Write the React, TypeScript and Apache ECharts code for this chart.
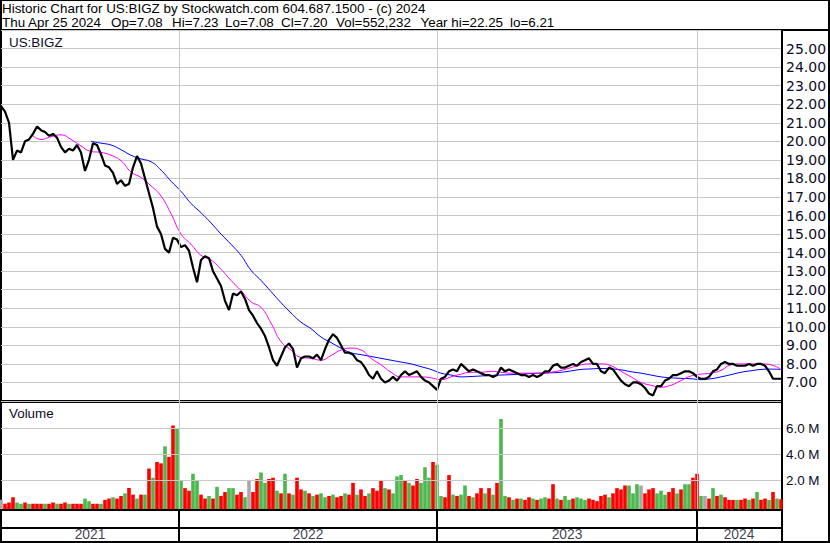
import React, { useEffect, useRef } from "react";
import * as echarts from "echarts";

// ---- data ----
const STEP = 4; // trading days between stored closes / volumes
const closes = [
  21.9, 21.6, 21.0, 19.0, 19.5, 19.4, 20.0, 20.1, 20.4, 20.8,
  20.6, 20.5, 20.3, 20.4, 20.2, 19.7, 19.4, 19.6, 19.5, 19.8,
  19.4, 18.4, 19.0, 19.9, 19.8, 19.3, 18.7, 18.6, 18.3, 17.7,
  17.9, 17.6, 17.7, 18.6, 19.2, 18.8, 18.0, 17.2, 16.4, 15.4,
  15.0, 14.2, 14.0, 14.8, 14.7, 14.3, 14.4, 14.1, 13.2, 12.4,
  13.6, 13.8, 13.7, 13.0, 12.6, 12.2, 11.4, 10.9, 11.8, 11.7,
  11.9, 11.5, 10.9, 10.6, 10.2, 9.9, 9.5, 8.9, 8.2, 7.9,
  8.4, 8.9, 9.1, 8.8, 7.8, 8.3, 8.4, 8.4, 8.3, 8.5,
  8.2, 8.8, 9.3, 9.6, 9.4, 9.0, 8.6, 8.6, 8.5, 8.2,
  8.1, 7.8, 7.4, 7.2, 7.6, 7.2, 7.0, 7.1, 7.3, 7.1,
  7.4, 7.6, 7.4, 7.5, 7.6, 7.3, 7.1, 7.0, 6.8, 6.6,
  7.2, 7.3, 7.6, 7.7, 7.6, 8.0, 7.8, 7.6, 7.7, 7.6,
  7.5, 7.4, 7.4, 7.3, 7.4, 7.8, 7.6, 7.7, 7.6, 7.5,
  7.4, 7.4, 7.3, 7.4, 7.3, 7.4, 7.6, 7.6, 7.9, 8.0,
  7.8, 7.8, 7.9, 8.0, 7.9, 8.1, 8.2, 8.3, 8.0, 8.0,
  7.6, 7.5, 7.8, 7.7, 7.4, 7.1, 6.9, 6.8, 7.0, 7.0,
  6.9, 6.7, 6.4, 6.3, 6.8, 6.8, 7.1, 7.2, 7.4, 7.4,
  7.5, 7.6, 7.6, 7.5, 7.3, 7.2, 7.2, 7.3, 7.6, 7.7,
  8.0, 8.1, 8.0, 8.0, 7.9, 7.9, 7.9, 8.0, 7.9, 8.0,
  8.0, 7.9, 7.6, 7.2, 7.2, 7.2,
];
const volumes = [
  0.5, 0.2, 0.3, 0.7, 0.3, 0.2, 0.3, 0.2, 0.2, 0.2,
  0.2, 0.2, 0.2, 0.3, 0.2, 0.2, 0.3, 0.2, 0.2, 0.2,
  0.2, 0.6, 0.4, 0.2, 0.2, 0.2, 0.5, 0.6, 0.7, 0.6,
  0.8, 1.0, 1.4, 0.9, 0.6, 0.9, 0.9, 2.9, 2.2, 3.4,
  3.3, 4.6, 3.8, 6.2, 6.0, 2.0, 1.4, 1.2, 2.5, 2.0,
  0.9, 0.6, 0.8, 0.6, 1.5, 0.8, 1.1, 1.4, 1.4, 0.9,
  1.1, 0.7, 2.0, 1.1, 2.1, 2.6, 1.8, 2.1, 2.2, 1.2,
  1.0, 2.5, 1.0, 0.9, 2.2, 1.3, 1.2, 1.0, 0.8, 0.9,
  1.0, 0.7, 0.8, 0.9, 0.7, 0.8, 1.0, 0.9, 1.8, 0.9,
  1.3, 0.8, 1.0, 1.4, 1.2, 2.0, 1.4, 1.3, 1.0, 2.3,
  2.4, 2.0, 1.8, 1.6, 2.1, 1.8, 3.0, 2.2, 3.4, 3.2,
  0.8, 0.7, 2.4, 0.9, 0.8, 0.9, 1.6, 0.8, 0.7, 1.0,
  1.4, 1.0, 1.4, 0.9, 1.8, 6.7, 0.8, 0.7, 0.5, 0.6,
  0.6, 0.5, 0.7, 0.6, 0.5, 0.6, 0.7, 0.6, 1.7, 0.6,
  0.5, 0.8, 0.5, 0.6, 0.7, 0.6, 0.5, 0.6, 0.5, 0.4,
  0.8, 0.9, 0.7, 1.0, 1.4, 1.3, 1.6, 1.6, 1.0, 1.7,
  1.6, 1.0, 1.3, 1.4, 1.0, 1.2, 0.9, 1.1, 1.4, 1.0,
  1.3, 1.7, 1.7, 2.2, 2.5, 0.8, 0.8, 0.6, 1.4, 0.8,
  0.9, 0.7, 0.5, 0.5, 0.5, 0.5, 0.6, 0.5, 0.6, 1.1,
  0.5, 0.6, 0.5, 1.1, 0.6, 0.55,
];
// g = up day, r = down day, n = unchanged
const volumeDirections = (
  "nrrrggrgrr" + "rgrrgrrgrr" + "rggrrgrrgr" + "rgrrgrgrgr" + "rgrrggrrgg" +
  "rrgrgrrggr" + "rgnrrggrrg" + "rgrgrrgrgr" + "ggrgrrgrrg" + "rrgrrrgrgg" +
  "grgrrgggrg" + "grrgrggrgr" + "rgrgrggrgr" + "grrgrggrrg" + "rggrgggrrr" +
  "rrgrrrrggg" + "nrrrgggrrg" + "rggrrgnrgr" + "grrrgrrgrg" + "rrgrgr"
).split("");

const MA_STEP = 10;
const maFastStart = 30;
const maFast = [
  20.4, 20.1, 20.25, 20.35, 20.1, 19.75, 19.45, 19.4, 19.25, 18.95,
  18.35, 18.05, 17.6, 17.05, 16.1, 15.0, 14.45, 13.85, 13.6, 13.1,
  12.5, 11.95, 11.35, 11.05, 10.2, 9.2, 8.75, 8.35, 8.3, 8.2,
  8.45, 8.75, 8.85, 8.75, 8.3, 7.95, 7.55, 7.3, 7.3, 7.3,
  7.25, 7.15, 7.3, 7.45, 7.55, 7.55, 7.6, 7.55, 7.5, 7.5,
  7.5, 7.5, 7.55, 7.65, 7.8, 7.95, 8.0, 8.0, 7.9, 7.6,
  7.3, 7.0, 6.85, 6.75, 6.85, 7.1, 7.35, 7.45, 7.5, 7.65,
  7.95, 8.0, 8.0, 8.0, 7.95, 7.7,
];
const maSlowStart = 90;
const maSlow = [
  20.0, 19.9, 19.8, 19.55, 19.25, 19.05, 18.9, 18.45, 17.85, 17.3,
  16.65, 16.15, 15.6, 15.0, 14.45, 13.85, 13.05, 12.5, 11.9, 11.3,
  10.75, 10.25, 9.9, 9.45, 9.15, 8.85, 8.6, 8.5, 8.4, 8.3,
  8.2, 8.1, 8.0, 7.85, 7.7, 7.5, 7.4, 7.3, 7.32, 7.35,
  7.38, 7.4, 7.42, 7.45, 7.48, 7.5, 7.52, 7.55, 7.62, 7.7,
  7.73, 7.75, 7.73, 7.68, 7.58, 7.5, 7.4, 7.3, 7.25, 7.22,
  7.2, 7.15, 7.2, 7.3, 7.42, 7.55, 7.63, 7.7, 7.72, 7.7,
];

const yearLabels = ["2021", "2022", "2023", "2024"];
const yearStarts = [178, 436, 696]; // trading-day index where each new year begins
const lastDay = 780;
const volumeTicks = [2, 4, 6]; // millions

const title = "Historic Chart for US:BIGZ by Stockwatch.com 604.687.1500 - (c) 2024";
const quoteItems = [
  "Thu Apr 25 2024", "Op=7.08", "Hi=7.23", "Lo=7.08", "Cl=7.20",
  "Vol=552,232", "Year hi=22.25", "lo=6.21",
];
const symbol = "US:BIGZ";

export default function App() {
  const ref = useRef<HTMLDivElement>(null);
  useEffect(() => {
    const el = ref.current!;
    const chart = echarts.init(el, null, { renderer: "svg" });
    const FONT = "'Liberation Sans', Arial, sans-serif";
    const TXT = "#0c0c28";
    const GRID = "#c8c8c8";
    const VOL_BASE = 0.2;
    const colorOf: Record<string, string> = { g: "#4cb84c", r: "#ff0000", n: "#a8a8a8" };

    const priceData = closes.map((v, i) => [i * STEP, v]);
    const fastData = maFast.map((v, i) => [maFastStart + i * MA_STEP, v]);
    const slowData = maSlow.map((v, i) => [maSlowStart + i * MA_STEP, v]);
    const volData = volumes.map((v, i) => ({
      value: [i * STEP, v + VOL_BASE],
      itemStyle: { color: colorOf[volumeDirections[i]] || "#ff0000" },
    }));
    const bounds = [0, ...yearStarts, lastDay];
    const yearMid = yearLabels.map((_, i) => [(bounds[i] + bounds[i + 1]) / 2, 0.5]);
    const vLines = (color: string, width: number) => ({
      silent: true,
      symbol: "none",
      label: { show: false },
      lineStyle: { color, width, type: "solid" },
      data: yearStarts.map((d) => ({ xAxis: d })),
    });

    const headerX = [2, 111, 172, 225, 281, 336, 420.5, 510];

    chart.setOption({
      animation: false,
      textStyle: { fontFamily: FONT },
      grid: [
        { left: 1, width: 780, top: 30, height: 371 },
        { left: 1, width: 780, top: 402, height: 107 },
        { left: 1, width: 780, top: 509, height: 33 },
        { left: 1, width: 780, top: 527, height: 15 },
      ],
      xAxis: [0, 1, 2, 3].map((i) => ({
        type: "value",
        gridIndex: i,
        min: 0,
        max: lastDay,
        show: false,
      })),
      yAxis: [
        {
          type: "value",
          gridIndex: 0,
          position: "right",
          min: 6,
          max: 26,
          interval: 1,
          axisLine: { show: false },
          axisTick: { show: false },
          splitLine: { show: true, lineStyle: { color: GRID, width: 1 } },
          axisLabel: {
            margin: 5,
            color: TXT,
            fontFamily: "'DejaVu Sans', sans-serif",
            fontSize: 14,
            formatter: (v: number) => (v <= 6 || v >= 26 ? "" : v.toFixed(2)),
          },
        },
        {
          type: "value",
          gridIndex: 1,
          position: "right",
          min: 0,
          max: 8.2,
          axisLine: { show: false },
          axisTick: { show: false },
          splitLine: { show: false },
          axisLabel: {
            margin: 5,
            color: TXT,
            fontFamily: FONT,
            fontSize: 13.4,
            customValues: volumeTicks.map((t) => t + VOL_BASE),
            formatter: (v: number) => (v - VOL_BASE).toFixed(1) + " M",
          },
        },
        { type: "value", gridIndex: 2, min: 0, max: 1, show: false },
        { type: "value", gridIndex: 3, min: 0, max: 1, show: false },
      ],
      series: [
        {
          name: "grid-price",
          type: "line",
          xAxisIndex: 0,
          yAxisIndex: 0,
          data: [],
          z: 0,
          markLine: vLines(GRID, 1),
        },
        {
          name: "maSlow",
          type: "line",
          xAxisIndex: 0,
          yAxisIndex: 0,
          data: slowData,
          smooth: true,
          showSymbol: false,
          lineStyle: { color: "#0000ff", width: 1 },
          z: 2,
        },
        {
          name: "maFast",
          type: "line",
          xAxisIndex: 0,
          yAxisIndex: 0,
          data: fastData,
          smooth: true,
          showSymbol: false,
          lineStyle: { color: "#ff00ff", width: 1 },
          z: 2,
        },
        {
          name: "close",
          type: "line",
          xAxisIndex: 0,
          yAxisIndex: 0,
          data: priceData,
          showSymbol: false,
          lineStyle: { color: "#000000", width: 2.2 },
          z: 3,
        },
        {
          name: "grid-volume",
          type: "line",
          xAxisIndex: 1,
          yAxisIndex: 1,
          data: [],
          z: 0,
          markLine: {
            silent: true,
            symbol: "none",
            label: { show: false },
            lineStyle: { color: GRID, width: 1, type: "solid" },
            data: [
              ...yearStarts.map((d) => ({ xAxis: d })),
              ...volumeTicks.map((t) => ({ yAxis: t + VOL_BASE })),
            ],
          },
        },
        {
          name: "volume",
          type: "bar",
          xAxisIndex: 1,
          yAxisIndex: 1,
          data: volData,
          barWidth: 3.6,
          z: 2,
        },
        {
          name: "year-sep",
          type: "line",
          xAxisIndex: 2,
          yAxisIndex: 2,
          data: [],
          markLine: vLines("#000000", 2),
        },
        {
          name: "years",
          type: "scatter",
          xAxisIndex: 3,
          yAxisIndex: 3,
          data: yearMid,
          symbolSize: 0,
          label: {
            show: true,
            position: "inside",
            color: TXT,
            fontFamily: FONT,
            fontSize: 13.8,
            formatter: (p: any) => yearLabels[p.dataIndex],
          },
        },
      ],
      graphic: [
        // outer frame
        { type: "rect", shape: { x: 0, y: 0, width: 830, height: 1 }, style: { fill: "#000" } },
        { type: "rect", shape: { x: 0, y: 0, width: 2, height: 543 }, style: { fill: "#000" } },
        { type: "rect", shape: { x: 828, y: 0, width: 2, height: 543 }, style: { fill: "#000" } },
        { type: "rect", shape: { x: 0, y: 541, width: 830, height: 2 }, style: { fill: "#000" } },
        // header separator
        { type: "rect", shape: { x: 0, y: 29, width: 830, height: 2 }, style: { fill: "#000" } },
        // right axis divider
        { type: "rect", shape: { x: 781, y: 29, width: 2, height: 514 }, style: { fill: "#000" } },
        // panel separators
        { type: "rect", shape: { x: 0, y: 400, width: 782, height: 1 }, style: { fill: "#000" } },
        { type: "rect", shape: { x: 0, y: 402, width: 782, height: 1 }, style: { fill: "#000" } },
        { type: "rect", shape: { x: 0, y: 509, width: 782, height: 2 }, style: { fill: "#000" } },
        { type: "rect", shape: { x: 0, y: 527, width: 782, height: 2 }, style: { fill: "#000" } },
        // header texts
        {
          type: "text",
          x: 2,
          y: 8.5,
          style: { text: title, fill: "#000", font: `13.4px ${FONT}`, textVerticalAlign: "middle" },
        },
        ...quoteItems.map((t, i) => ({
          type: "text",
          x: headerX[i],
          y: 22.7,
          style: { text: t, fill: "#000", font: `13.4px ${FONT}`, textVerticalAlign: "middle" },
        })),
        {
          type: "text",
          x: 9,
          y: 42,
          style: { text: symbol, fill: TXT, font: `13.4px ${FONT}`, textVerticalAlign: "middle" },
        },
        {
          type: "text",
          x: 9,
          y: 413,
          style: { text: "Volume", fill: TXT, font: `13.4px ${FONT}`, textVerticalAlign: "middle" },
        },
      ],
    });
    return () => chart.dispose();
  }, []);
  return (
    <div
      ref={ref}
      style={{ position: "fixed", left: 0, top: 0, width: 830, height: 543, background: "#fff" }}
    />
  );
}
